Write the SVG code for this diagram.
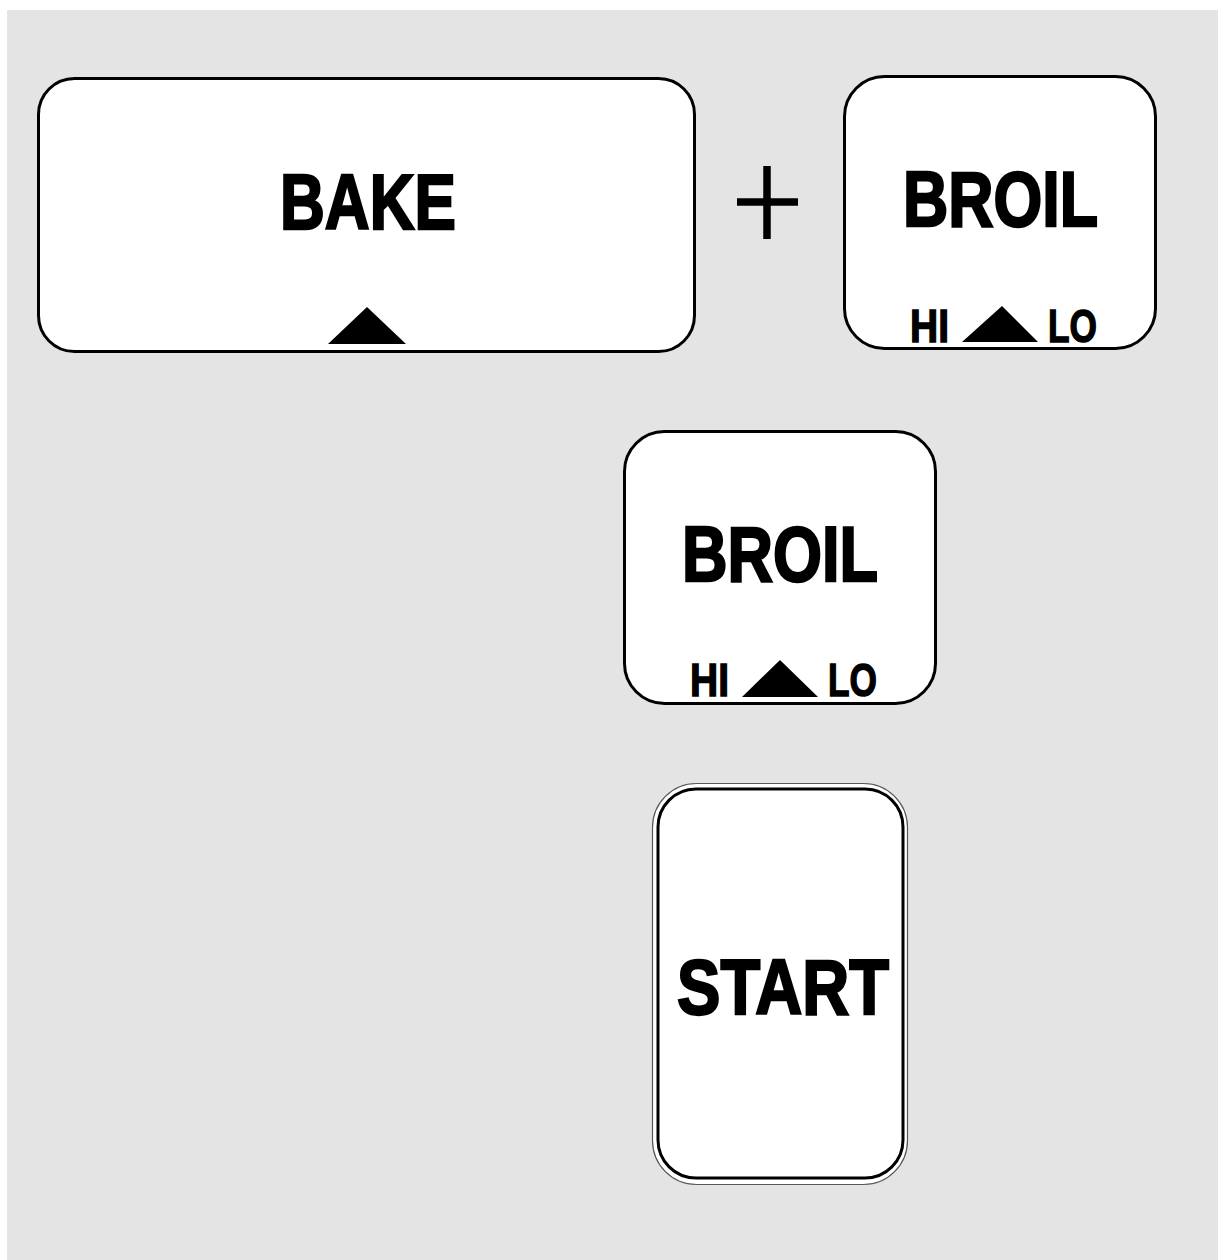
<svg xmlns="http://www.w3.org/2000/svg" width="1218" height="1260" viewBox="0 0 1218 1260">
<style>
.box{fill:#fff;stroke:#000;stroke-width:3}
.big{font-family:"Liberation Sans",Arial,sans-serif;font-weight:bold;font-size:78px;fill:#000;stroke:#000;stroke-width:2.4;stroke-linejoin:miter;text-anchor:middle}
.small{font-family:"Liberation Sans",Arial,sans-serif;font-weight:bold;font-size:47px;fill:#000;stroke:#000;stroke-width:1.4;text-anchor:middle}
.tri{fill:#000}
</style>
<rect x="0" y="0" width="1218" height="1260" fill="#fff"/>
<rect x="7" y="10" width="1211" height="1250" fill="#e4e4e4"/>
<g id="bake">
<rect class="box" x="38.5" y="78.5" width="656" height="273" rx="36"/>
<text class="big" x="368" y="229" textLength="176" lengthAdjust="spacingAndGlyphs">BAKE</text>
<polygon class="tri" points="367,307 406,344 328,344"/>
</g>
<g id="plus">
<path d="M767,166V239M737,202H798" stroke="#000" stroke-width="7.5" fill="none"/>
</g>
<g id="broil1">
<rect class="box" x="844.5" y="76.5" width="311" height="272" rx="40"/>
<text class="big" x="1000.5" y="226" textLength="195" lengthAdjust="spacingAndGlyphs">BROIL</text>
<text class="small" x="929.5" y="341.5" textLength="39" lengthAdjust="spacingAndGlyphs">HI</text>
<polygon class="tri" points="1002,306 1038,342 962,342"/>
<text class="small" x="1072.5" y="341.5" textLength="49" lengthAdjust="spacingAndGlyphs">LO</text>
</g>
<g id="broil2">
<rect class="box" x="624.5" y="431.5" width="311" height="272" rx="40"/>
<text class="big" x="780" y="581" textLength="196" lengthAdjust="spacingAndGlyphs">BROIL</text>
<text class="small" x="709.5" y="695.5" textLength="39" lengthAdjust="spacingAndGlyphs">HI</text>
<polygon class="tri" points="780,660 818,697 742,697"/>
<text class="small" x="852.5" y="695.5" textLength="49" lengthAdjust="spacingAndGlyphs">LO</text>
</g>
<g id="start">
<rect x="652.5" y="783.5" width="255" height="401" rx="44" fill="#fff" stroke="#555" stroke-width="1.2"/>
<rect class="box" x="658" y="789" width="245" height="389" rx="38"/>
<text class="big" x="783" y="1014" textLength="212" lengthAdjust="spacingAndGlyphs" font-size="79">START</text>
</g>
<g id="connectors"/>
</svg>
